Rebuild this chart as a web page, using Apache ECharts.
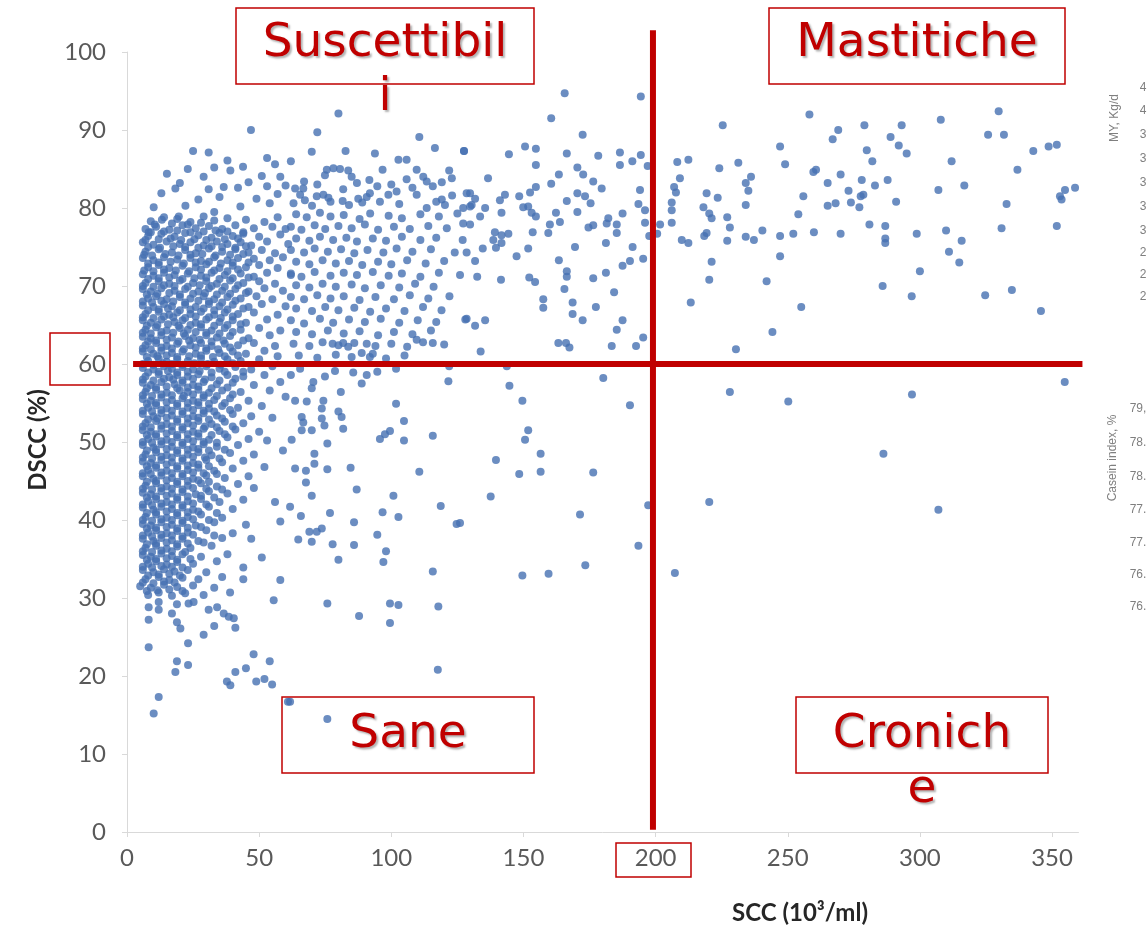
<!DOCTYPE html>
<html><head><meta charset="utf-8">
<script src="https://cdn.jsdelivr.net/npm/echarts@6/dist/echarts.min.js"></script>
<style>html,body{margin:0;padding:0;background:#fff}#c{width:1148px;height:931px}</style>
</head><body><div id="c"></div>
<script>
const xAxisTitle = 'SCC (10³/ml)';
const yAxisTitle = 'DSCC (%)';
const xRange = [0, 360, 50];
const yRange = [0, 100, 10];
const sccThreshold = 200;
const dsccThreshold = 60;
const quadrantLabels = ['Suscettibil', 'i', 'Mastitiche', 'Sane', 'Cronich', 'e'];
const sideLabelMY = 'MY, Kg/d';
const sideValuesMY = ['4', '4', '3', '3', '3', '3', '3', '2', '2', '2'];
const sideLabelCasein = 'Casein index, %';
const sideValuesCasein = ['79,', '78.', '78.', '77.', '77.', '76.', '76.'];

// x>200, DSCC>60
const rightUpper = [[225.4,90.6],[258.2,92.0],[307.9,91.3],[329.8,92.4],[279.0,90.6],[293.1,90.6],[269.1,90.0],[267.0,88.8],[288.9,89.1],[325.8,89.4],[331.8,89.4],[292.0,88.0],[295.0,87.0],[247.1,87.9],[279.9,87.4],[342.9,87.3],[348.7,87.9],[351.8,88.1],[208.2,85.9],[212.4,86.2],[231.3,85.8],[224.1,85.1],[249.0,85.6],[282.0,86.0],[312.0,86.0],[336.9,84.9],[259.7,84.6],[260.7,84.9],[270.0,84.3],[209.2,83.8],[236.1,84.0],[234.1,83.2],[278.0,83.6],[287.8,83.6],[265.1,83.2],[283.0,82.9],[316.8,82.9],[307.0,82.3],[207.0,82.7],[207.7,82.0],[235.1,82.2],[354.9,82.3],[358.7,82.6],[353.0,81.5],[353.6,81.1],[219.3,81.9],[223.5,81.3],[273.0,82.2],[278.6,81.7],[277.6,81.5],[255.9,81.5],[291.0,80.8],[332.8,80.5],[206.1,80.7],[206.1,79.7],[218.1,80.1],[220.3,79.3],[221.2,78.7],[234.1,80.4],[265.1,80.3],[268.1,80.6],[273.9,80.7],[277.1,80.1],[227.1,78.8],[254.0,79.2],[201.7,77.9],[206.1,78.1],[228.1,77.5],[280.9,77.9],[286.9,77.7],[330.9,77.4],[351.8,77.7],[200.6,76.7],[218.4,76.4],[219.3,76.8],[209.9,75.9],[212.4,75.5],[227.1,75.8],[234.1,76.3],[237.2,75.9],[240.4,77.1],[247.1,76.4],[252.1,76.7],[259.9,76.9],[270.0,76.7],[286.9,76.1],[286.9,75.5],[298.8,76.7],[309.9,77.1],[315.8,75.8],[311.0,74.4],[314.9,73.0],[247.1,73.8],[221.2,73.1],[220.3,70.8],[242.0,70.6],[300.0,71.9],[285.9,70.0],[296.9,68.7],[324.7,68.8],[334.8,69.5],[345.8,66.8],[213.3,67.9],[255.1,67.3],[244.2,64.1],[230.4,61.9]];
// x>200, DSCC<60
const rightLower = [[228.1,56.4],[250.2,55.2],[297.0,56.1],[354.8,57.7],[286.2,48.5],[220.3,42.3],[307.0,41.3],[207.3,33.2]];
// 126<x<200, DSCC>60
const midUpper = [[165.6,94.7],[194.4,94.3],[160.5,91.5],[172.4,89.4],[127.5,87.3],[144.5,86.9],[150.6,87.9],[154.7,87.6],[166.4,87.0],[178.3,86.7],[186.5,87.1],[186.5,85.5],[191.2,86.0],[194.4,86.8],[197.0,85.4],[154.7,85.5],[170.4,85.2],[172.6,84.3],[163.4,84.3],[136.6,83.8],[160.5,83.1],[176.4,83.4],[179.6,82.5],[154.7,82.7],[152.5,82.0],[148.4,81.5],[143.0,81.7],[141.1,81.0],[129.8,81.9],[131.7,81.2],[130.4,80.4],[170.4,81.9],[173.3,81.5],[175.4,80.6],[166.4,80.9],[194.1,82.3],[193.5,80.5],[196.0,79.7],[149.9,80.1],[151.8,80.2],[153.1,79.4],[154.7,78.9],[141.7,79.4],[135.5,80.0],[133.6,78.9],[127.2,78.0],[129.8,77.9],[162.3,79.4],[170.4,79.5],[187.5,79.3],[182.1,78.7],[181.5,78.0],[185.3,77.9],[185.3,76.8],[176.4,77.8],[174.6,77.5],[163.8,78.2],[160.0,77.9],[159.4,76.8],[153.5,76.9],[139.2,76.9],[141.7,76.5],[144.3,76.7],[138.6,75.9],[141.7,75.5],[139.6,74.9],[196.0,78.1],[197.6,76.4],[181.2,75.5],[169.5,75.0],[151.8,74.8],[147.4,73.8],[134.6,74.8],[128.5,74.3],[131.7,73.2],[191.3,75.0],[195.3,73.5],[190.3,73.2],[187.5,72.6],[163.4,73.3],[166.4,71.9],[166.4,71.2],[181.2,71.7],[176.4,71.0],[132.5,71.2],[141.5,70.8],[152.2,71.1],[154.4,70.5],[165.5,69.6],[184.3,69.2],[157.5,68.3],[157.5,67.2],[168.6,67.9],[168.6,66.4],[177.4,67.3],[172.4,65.6],[187.5,65.6],[185.3,64.4],[128.5,65.8],[131.7,64.9],[135.5,65.6],[163.2,62.7],[166.1,62.7],[167.4,62.1],[133.8,61.6],[183.4,62.3],[192.6,62.3],[195.3,63.4]];
// 126<x<200, DSCC<60
const midLower = [[143.7,59.7],[144.7,57.2],[149.6,55.3],[180.2,58.2],[190.3,54.7],[151.8,51.5],[150.6,50.3],[156.5,48.5],[139.6,47.7],[148.4,45.9],[156.5,46.2],[176.4,46.1],[137.6,43.0],[197.2,41.9],[171.4,40.7],[126.0,39.6],[193.5,36.7],[173.4,34.2],[149.6,32.9],[159.5,33.1]];
// 60<x<126, around and below the 60 line
const leftMidLower = [[77.8,62.6],[81.8,62.7],[83.7,62.2],[90.7,62.6],[88.8,61.4],[91.9,60.9],[115.7,62.7],[109.6,63.1],[65.5,59.4],[78.7,59.1],[85.6,58.9],[90.7,58.6],[94.7,59.0],[101.8,59.4],[121.9,59.7],[121.6,57.8],[88.8,57.5],[74.9,58.4],[70.5,57.7],[69.9,56.9],[80.9,56.4],[63.6,55.3],[68.0,55.2],[74.3,55.3],[73.7,54.3],[101.8,54.9],[80.0,53.9],[81.2,53.2],[66.1,53.2],[66.7,52.5],[66.1,51.5],[73.7,53.0],[74.7,52.1],[69.9,51.5],[81.8,51.7],[104.8,52.7],[95.7,50.4],[97.6,51.0],[99.5,51.4],[104.8,50.2],[115.7,50.8],[62.3,50.3],[75.8,49.8],[70.9,48.5],[70.9,47.2],[63.6,46.6],[67.7,46.3],[75.8,46.5],[84.6,46.7],[110.6,46.2],[67.7,44.8],[86.9,43.9],[69.9,43.1],[100.8,43.1],[118.7,41.8],[61.7,41.7],[65.8,40.5],[76.8,40.9],[96.7,41.0],[102.7,40.4],[85.9,39.7],[124.7,39.5],[69.0,38.5],[71.8,38.5],[73.7,38.9],[64.8,37.5],[69.9,37.2],[77.8,36.9],[85.9,36.8],[94.7,38.1],[98.0,36.0],[97.0,34.6],[80.0,34.9],[115.7,33.4],[75.8,29.3],[99.5,29.3],[102.7,29.1],[117.8,28.9],[87.8,27.7],[99.5,26.8],[117.6,20.8],[75.8,14.5],[61.7,16.7]];
// x<60, low tail
const leftLowerTail = [[12.0,29.5],[18.9,29.2],[23.3,29.3],[25.2,29.5],[8.2,28.8],[12.0,28.5],[17.0,28.0],[30.9,28.5],[34.1,28.8],[36.6,28.0],[38.5,27.6],[40.4,27.4],[8.2,27.2],[18.9,26.9],[20.2,26.1],[33.0,26.4],[41.0,26.2],[29.0,25.3],[23.1,24.2],[8.2,23.7],[47.9,22.8],[54.0,21.9],[18.9,21.9],[23.1,21.4],[18.3,20.5],[41.0,20.5],[45.0,21.0],[37.8,19.3],[39.1,18.8],[48.9,19.3],[52.0,19.6],[54.9,18.9],[60.9,16.7],[12.0,17.3],[10.1,15.2],[55.5,29.7],[58.0,32.3],[44.0,32.4],[48,44.1],[52,46.8],[56,42.3],[59,48.9],[55,53.1],[60,55.8],[47,37.6],[51,35.2],[44,33.9],[58,39.8],[53,50.2],[62,58.6],[57,61.0]];
// upper sparse, x<130
const leftUpper = [[46.9,90.0],[25.0,87.3],[30.9,87.1],[53.0,86.4],[15.1,84.4],[23.0,85.0],[33.0,85.2],[29.0,84.0],[39.1,84.8],[43.9,85.3],[58.0,84.0],[18.3,82.5],[30.9,82.4],[36.6,82.7],[42.0,82.6],[53.0,82.8],[10.1,80.1],[22.1,80.3],[13.2,78.5],[8.2,76.9],[19.6,78.9],[33.0,79.5],[42.9,80.2],[80.0,92.1],[72.0,89.7],[69.9,87.2],[82.7,87.3],[93.8,87.0],[110.6,89.1],[116.5,87.7],[127.5,87.3],[102.7,86.2],[105.8,86.2],[75.6,84.9],[78.1,85.1],[80.6,85.0],[83.7,84.8],[85.0,84.0],[74.9,84.2],[96.7,84.9],[91.7,83.6],[94.7,82.8],[109.6,84.9],[105.8,83.7],[112.1,84.0],[113.4,83.4],[115.7,82.8],[121.9,84.8],[122.9,83.8],[119.1,83.3],[128.5,81.9],[63.6,82.5],[66.7,82.5],[81.8,82.4],[71.8,81.5],[74.3,81.7],[76.2,81.3],[65.5,81.7],[67.3,81.0],[81.6,80.9],[87.5,81.2],[90.7,81.4],[91.9,81.9],[95.7,80.8],[98.9,81.7],[102.0,82.1],[109.6,81.7],[119.1,81.1],[120.3,80.4],[113.4,80.0],[127.2,80.0],[129.8,80.2],[63,80.6],[70,80.3],[77,80.8],[84,80.4],[89,80.7],[103,80.5],[117,80.8],[123,81.6],[67,83.4],[72,83.0],[87,83.2],[100,83.0],[108,82.6],[49,81.2],[54,80.6],[57,81.8],[60,82.9],[46,83.3],[51,84.1],[56,85.6],[62,86.0],[35,81.4],[27,81.1],[13,81.9],[20,83.2],[38,86.1]];
// dense blob, x<62 (first layer)
const coreBlob = [[9,78.3],[14,78.8],[19,78.6],[24,78.2],[29,78.9],[33,78.4],[38,78.7],[45,78.5],[52,78.2],[57,78.8],
[7,77.3],[11,77.6],[16,77.2],[21,77.8],[26,77.4],[31,77.7],[36,77.3],[41,77.8],[48,77.4],[55,77.6],[60,77.3],
[8,76.4],[13,76.7],[18,76.3],[22,76.8],[27,76.5],[32,76.2],[35,76.8],[40,76.4],[44,76.7],[50,76.3],[58,76.6],
[6,75.6],[10,75.3],[15,75.7],[20,75.4],[24,75.6],[29,75.2],[34,75.7],[38,75.4],[43,75.6],[47,75.2],[53,75.7],[61,75.4],
[7,74.4],[12,74.7],[17,74.3],[22,74.6],[26,74.2],[31,74.8],[36,74.4],[41,74.7],[46,74.3],[51,74.6],[56,74.2],
[6,73.6],[10,73.3],[14,73.7],[19,73.4],[24,73.6],[28,73.2],[33,73.7],[38,73.3],[42,73.6],[48,73.5],[54,73.3],[59,73.7],
[8,72.4],[12,72.7],[16,72.3],[21,72.6],[26,72.4],[30,72.8],[35,72.3],[40,72.6],[45,72.4],[50,72.7],[57,72.3],
[6,71.5],[10,71.3],[14,71.7],[18,71.4],[23,71.6],[28,71.3],[32,71.7],[37,71.4],[43,71.6],[48,71.2],[53,71.7],[62,71.4],
[7,70.4],[12,70.6],[16,70.3],[20,70.7],[25,70.4],[30,70.6],[34,70.3],[39,70.7],[44,70.4],[50,70.6],[56,70.3],
[6,69.6],[9,69.3],[13,69.7],[18,69.4],[22,69.6],[27,69.3],[31,69.7],[36,69.4],[41,69.6],[46,69.3],[52,69.7],[59,69.4],
[8,68.4],[11,68.7],[15,68.3],[20,68.6],[24,68.4],[29,68.7],[33,68.3],[38,68.6],[43,68.4],[49,68.7],[55,68.3],
[6,67.5],[10,67.3],[14,67.7],[17,67.4],[22,67.6],[26,67.3],[31,67.7],[35,67.4],[40,67.6],[46,67.3],[51,67.7],[60,67.4],
[7,66.4],[12,66.7],[16,66.3],[19,66.6],[24,66.4],[28,66.7],[33,66.3],[37,66.6],[42,66.4],[48,66.6],[57,66.3],
[6,65.6],[9,65.3],[13,65.7],[18,65.4],[21,65.6],[26,65.3],[30,65.7],[35,65.4],[40,65.6],[45,65.3],[53,65.7],
[7,64.4],[11,64.7],[15,64.3],[20,64.6],[23,64.4],[28,64.7],[32,64.3],[37,64.6],[43,64.4],[50,64.6],[58,64.3],
[6,63.5],[9,63.3],[13,63.7],[17,63.4],[22,63.6],[25,63.3],[30,63.7],[34,63.4],[39,63.6],[46,63.3],[54,63.7],
[7,62.4],[11,62.7],[15,62.3],[19,62.6],[24,62.4],[28,62.7],[32,62.3],[37,62.6],[42,62.4],[48,62.7],[56,62.3],
[6,61.6],[10,61.3],[13,61.7],[17,61.4],[21,61.6],[26,61.3],[30,61.7],[35,61.4],[40,61.6],[45,61.3],[52,61.7],
[8,60.4],[12,60.7],[15,60.3],[19,60.6],[23,60.4],[28,60.7],[33,60.3],[38,60.6],[43,60.4],[50,60.6],
[6,59.5],[10,59.3],[14,59.7],[17,59.4],[21,59.6],[25,59.3],[30,59.7],[35,59.4],[41,59.6],[47,59.3],[55,59.7],
[7,58.4],[12,58.7],[16,58.3],[19,58.6],[23,58.4],[27,58.7],[32,58.3],[38,58.6],[44,58.4],[52,58.6],
[6,57.6],[9,57.3],[13,57.7],[18,57.4],[21,57.6],[25,57.3],[29,57.7],[34,57.4],[40,57.6],[48,57.3],[58,57.7],
[7,56.4],[11,56.7],[15,56.3],[20,56.6],[23,56.4],[27,56.7],[31,56.3],[36,56.6],[43,56.4],[54,56.6],
[6,55.5],[9,55.3],[13,55.7],[17,55.4],[21,55.6],[25,55.3],[29,55.7],[33,55.4],[39,55.6],[46,55.3],
[8,54.4],[11,54.7],[15,54.3],[19,54.6],[23,54.4],[27,54.7],[31,54.3],[36,54.6],[42,54.4],[51,54.6],
[6,53.6],[10,53.3],[13,53.7],[17,53.4],[21,53.6],[25,53.3],[29,53.7],[34,53.4],[40,53.6],[47,53.3],
[7,52.4],[11,52.7],[15,52.3],[19,52.6],[23,52.4],[27,52.7],[32,52.3],[37,52.6],[44,52.4],
[6,51.5],[9,51.3],[13,51.7],[17,51.4],[21,51.6],[25,51.3],[29,51.7],[35,51.4],[41,51.6],[50,51.3],
[8,50.4],[11,50.7],[15,50.3],[19,50.6],[23,50.4],[27,50.7],[31,50.3],[38,50.6],[46,50.4],
[6,49.6],[10,49.3],[13,49.7],[17,49.4],[21,49.6],[25,49.3],[29,49.7],[34,49.4],[42,49.6],
[7,48.4],[11,48.7],[15,48.3],[19,48.6],[23,48.4],[27,48.7],[32,48.3],[39,48.6],[48,48.4],
[6,47.5],[9,47.3],[13,47.7],[17,47.4],[21,47.6],[25,47.3],[30,47.7],[36,47.4],[44,47.6],
[8,46.4],[11,46.7],[15,46.3],[19,46.6],[23,46.4],[27,46.7],[33,46.3],[40,46.6],
[6,45.6],[10,45.3],[13,45.7],[17,45.4],[21,45.6],[25,45.3],[30,45.7],[37,45.4],[46,45.6],
[7,44.4],[11,44.7],[15,44.3],[19,44.6],[23,44.4],[28,44.7],[34,44.3],[42,44.6],
[6,43.5],[9,43.3],[13,43.7],[17,43.4],[21,43.6],[26,43.3],[31,43.7],[38,43.4],
[8,42.4],[11,42.7],[15,42.3],[19,42.6],[23,42.4],[28,42.7],[35,42.3],[44,42.6],
[6,41.6],[10,41.3],[13,41.7],[17,41.4],[21,41.6],[25,41.3],[31,41.7],[40,41.4],
[7,40.4],[11,40.7],[15,40.3],[19,40.6],[23,40.4],[28,40.7],[36,40.3],
[6,39.5],[9,39.3],[13,39.7],[17,39.4],[21,39.6],[26,39.3],[33,39.7],[45,39.4],
[8,38.4],[11,38.7],[15,38.3],[19,38.6],[23,38.4],[30,38.7],[40,38.3],
[6,37.6],[10,37.3],[13,37.7],[17,37.4],[21,37.6],[27,37.3],[36,37.7],
[7,36.4],[11,36.7],[15,36.3],[19,36.6],[24,36.4],[32,36.7],
[6,35.5],[9,35.3],[13,35.7],[17,35.4],[21,35.6],[28,35.3],[38,35.6],
[8,34.4],[11,34.7],[15,34.3],[19,34.6],[25,34.4],[34,34.7],
[6,33.6],[10,33.3],[14,33.7],[18,33.4],[23,33.6],[30,33.3],
[7,32.4],[12,32.7],[16,32.3],[21,32.6],[27,32.4],[36,32.7],
[5,31.5],[9,31.3],[14,31.7],[19,31.4],[25,31.6],[33,31.3],
[8,30.4],[12,30.7],[17,30.3],[22,30.6],[29,30.4],[39,30.7]];
// dense blob, x<46 (second layer, between the first)
const coreBlob2 = [[10.5,77.9],[17,78.0],[23,77.9],[28,78.1],
[9,76.9],[14,77.0],[19,77.1],[24,76.9],[29,77.0],[33.5,77.1],[38,77.0],[44,76.9],
[7,75.9],[12,76.0],[16.5,76.1],[20.5,75.9],[25.5,76.0],[30,75.9],[37,76.0],[42,76.1],
[8,75.0],[12.5,74.9],[17.5,75.1],[22,75.0],[27,74.9],[32,75.1],[36,75.0],[41,74.9],[45,75.1],
[6.5,74.0],[9.5,73.9],[14.5,74.1],[19.5,73.9],[24,74.0],[28.5,74.1],[33.5,73.9],[39,74.0],[44,74.1],
[8,72.9],[12,73.0],[16.5,73.1],[21.5,72.9],[26,73.0],[31,73.1],[35.5,72.9],[40,73.0],[46,73.0],
[6.5,72.0],[10,71.9],[14,72.1],[18.5,72.0],[23.5,71.9],[28,72.1],[33,72.0],[38,71.9],[42,72.1],
[8,70.9],[12,71.0],[16,71.1],[21,70.9],[25.5,71.0],[30,71.1],[35,70.9],[40,71.0],[46,71.1],
[6,70.0],[10,69.9],[14,70.1],[18,70.0],[23,69.9],[27.5,70.1],[32,70.0],[37,69.9],[42,70.1],
[7.5,68.9],[11.5,69.0],[16,69.1],[20,68.9],[25,69.0],[29.5,69.1],[34,68.9],[39,69.0],[45,69.1],
[6,68.0],[9.5,67.9],[13,68.1],[17.5,68.0],[22,67.9],[27,68.1],[31,68.0],[36,67.9],[41,68.1],
[8,66.9],[12,67.0],[15.5,67.1],[20,66.9],[24,67.0],[29,67.1],[33,66.9],[38,67.0],[44,67.1],
[6,66.0],[10,65.9],[14,66.1],[17.5,66.0],[22,65.9],[26,66.1],[31,66.0],[35.5,65.9],[40,66.1],
[7.5,64.9],[11.5,65.0],[15.5,65.1],[19.5,64.9],[24,65.0],[28,65.1],[33,64.9],[38,65.0],[43,65.1],
[6,64.0],[9,63.9],[13,64.1],[17.5,64.0],[21.5,63.9],[26,64.1],[30,64.0],[35,63.9],[40,64.1],
[8,62.9],[11,63.0],[15,63.1],[19.5,62.9],[23.5,63.0],[27.5,63.1],[32,62.9],[36.5,63.0],[44,63.0],
[6,62.0],[9,61.9],[13,62.1],[17,62.0],[21.5,61.9],[26,62.1],[30,62.0],[34.5,61.9],[39,62.1],
[7.5,60.9],[11.5,61.0],[15,61.1],[19,60.9],[23.5,61.0],[28,61.1],[32.5,60.9],[37,61.0],[42,61.1],
[6,60.0],[10,59.9],[13.5,60.1],[17,60.0],[21,59.9],[25.5,60.1],[30.5,60.0],[35.5,59.9],[40,60.1],
[8,58.9],[12,59.0],[15.5,59.1],[19,58.9],[23,59.0],[27.5,59.1],[32,58.9],[37,59.0],[44,59.0],
[6,58.0],[10,57.9],[14,58.1],[17.5,58.0],[21,57.9],[25,58.1],[29.5,58.0],[35,57.9],[41,58.1],
[7.5,56.9],[11,57.0],[15,57.1],[19,56.9],[23,57.0],[27,57.1],[32,56.9],[38,57.0],
[6,56.0],[9.5,55.9],[13,56.1],[17,56.0],[21.5,55.9],[25,56.1],[29,56.0],[34,55.9],[40,56.1],
[7.5,54.9],[11,55.0],[15,55.1],[19,54.9],[23,55.0],[27,55.1],[31,54.9],[37,55.0],
[6,54.0],[9.5,53.9],[13,54.1],[17,54.0],[21,53.9],[25,54.1],[29,54.0],[33,53.9],[39,54.1],
[8,52.9],[11.5,53.0],[15,53.1],[19,52.9],[23,53.0],[27,53.1],[31,52.9],[36,53.0],
[6,52.0],[9,51.9],[13,52.1],[17,52.0],[21,51.9],[25,52.1],[29.5,52.0],[34,51.9],[40,52.0],
[7.5,50.9],[11,51.0],[15,51.1],[19,50.9],[23,51.0],[27,51.1],[32,50.9],[37,51.0],
[6,50.0],[9.5,49.9],[13,50.1],[17,50.0],[21,49.9],[25,50.1],[29,50.0],[34,49.9],
[7.5,48.9],[11,49.0],[15,49.1],[19,48.9],[23,49.0],[27,49.1],[31,48.9],[37,49.0],
[6,48.0],[9.5,47.9],[13,48.1],[17,48.0],[21,47.9],[25,48.1],[29.5,48.0],[35,47.9],
[7.5,46.9],[11,47.0],[15,47.1],[19,46.9],[23,47.0],[27,47.1],[31,46.9],
[6,46.0],[9,45.9],[13,46.1],[17,46.0],[21,45.9],[25,46.1],[29,46.0],[34,45.9],
[7.5,44.9],[11,45.0],[15,45.1],[19,44.9],[23,45.0],[27,45.1],[31,44.9],
[6,44.0],[9.5,43.9],[13,44.1],[17,44.0],[21,43.9],[25,44.1],[30,44.0],[36,43.9],
[7.5,42.9],[11,43.0],[15,43.1],[19,42.9],[23,43.0],[28,43.1],[33,42.9],
[6,42.0],[9.5,41.9],[13,42.1],[17,42.0],[21,41.9],[25,42.1],[30,42.0],
[7.5,40.9],[11,41.0],[15,41.1],[19,40.9],[23,41.0],[27,41.1],[34,40.9],
[6,40.0],[9.5,39.9],[13,40.1],[17,40.0],[21,39.9],[25,40.1],[31,40.0],
[7.5,38.9],[11,39.0],[15,39.1],[19,38.9],[23,39.0],[28,39.1],
[6,38.0],[9.5,37.9],[13,38.1],[17,38.0],[21,37.9],[25,38.1],[33,38.0],
[7.5,36.9],[11,37.0],[15,37.1],[19,36.9],[23,37.0],[29,37.1],
[6,36.0],[9.5,35.9],[13,36.1],[17,36.0],[22,35.9],
[7.5,34.9],[11,35.0],[15,35.1],[19,34.9],[24,35.0],
[6,34.0],[9.5,33.9],[13,34.1],[17,34.0],[21,33.9],
[8,32.9],[12,33.0],[16,33.1],[20,32.9],
[6,32.0],[10,31.9],[14,32.1],[18,32.0],
[7.5,30.9],[11.5,31.0],[16,31.1],[21,30.9]];
// moderately dense band, 60<x<130
const midBlob = [[64,79.2],[68,78.8],[73,79.4],[77,78.9],[82,79.1],[88,78.6],[92,79.3],[99,79.0],[104,78.7],[111,79.2],[118,78.9],[125,79.3],
[62,77.6],[66,77.2],[71,77.8],[75,77.3],[80,77.7],[85,77.4],[90,77.9],[95,77.2],[101,77.6],[107,77.3],[114,77.7],[121,77.4],
[64,76.1],[69,75.8],[73,76.3],[78,75.9],[83,76.2],[87,75.7],[93,76.1],[98,75.8],[104,76.3],[111,75.9],[117,76.2],[127,75.9],
[62,74.6],[67,74.3],[71,74.8],[76,74.4],[81,74.7],[86,74.2],[91,74.6],[97,74.3],[102,74.8],[108,74.4],[115,74.7],[124,74.3],
[64,73.1],[69,72.8],[74,73.3],[79,72.9],[84,73.2],[89,72.7],[95,73.1],[100,72.8],[106,73.3],[113,72.9],[120,73.2],
[62,71.6],[66,71.2],[71,71.8],[77,71.3],[82,71.7],[87,71.4],[93,71.8],[99,71.3],[104,71.6],[111,71.2],[118,71.7],[126,71.4],
[64,70.1],[69,69.8],[74,70.3],[79,69.9],[85,70.2],[90,69.7],[96,70.1],[103,69.8],[109,70.3],[116,69.9],
[62,68.6],[67,68.3],[72,68.8],[77,68.4],[82,68.7],[88,68.2],[94,68.6],[101,68.3],[107,68.8],[114,68.4],[122,68.7],
[64,67.1],[70,66.8],[75,67.3],[80,66.9],[86,67.2],[92,66.7],[98,67.1],[105,66.8],[112,67.3],[119,66.9],
[62,65.6],[67,65.2],[73,65.8],[78,65.3],[84,65.7],[90,65.4],[96,65.8],[103,65.3],[110,65.6],[117,65.4],[128,65.7],
[64,64.1],[70,63.8],[76,64.3],[82,63.9],[88,64.2],[95,63.7],[101,64.1],[108,63.8],[115,64.3],
[63,62.6],[69,62.3],[74,62.8],[80,62.4],[86,62.7],[94,62.3],[100,62.6],[106,62.2],[112,62.8],[120,62.5],
[65,61.1],[72,60.8],[79,61.2],[85,60.9],[93,61.3],[98,60.7],[105,61.1]];

const allPoints = [].concat(rightUpper, rightLower, midUpper, midLower, leftMidLower, leftLowerTail, leftUpper, coreBlob, coreBlob2, midBlob);

const chart = echarts.init(document.getElementById('c'), null, {renderer: 'canvas'});
const tickFont = {fontFamily: 'Lato, "Open Sans", sans-serif', fontSize: 24, color: '#595959'};
chart.setOption({
  animation: false,
  backgroundColor: '#ffffff',
  grid: {left: 127, right: 1148 - 127 - 360 * 2.643, top: 52, bottom: 99, containLabel: false},
  xAxis: {
    type: 'value', min: xRange[0], max: xRange[1], interval: xRange[2],
    axisLine: {show: true, lineStyle: {color: '#d9d9d9', width: 1}},
    axisTick: {show: true, length: 5, lineStyle: {color: '#d9d9d9'}},
    splitLine: {show: false},
    axisLabel: Object.assign({margin: 14, showMaxLabel: false}, tickFont)
  },
  yAxis: {
    type: 'value', min: yRange[0], max: yRange[1], interval: yRange[2],
    axisLine: {show: true, lineStyle: {color: '#d9d9d9', width: 1}},
    axisTick: {show: true, length: 5, lineStyle: {color: '#d9d9d9'}},
    splitLine: {show: false},
    axisLabel: Object.assign({margin: 21}, tickFont)
  },
  series: [{
    type: 'scatter', data: allPoints, symbol: 'circle', symbolSize: 8,
    itemStyle: {color: '#4670b2'}, silent: true
  }]
});

const P = (x, y) => chart.convertToPixel({gridIndex: 0}, [x, y]);
const hA = P(2.3, dsccThreshold), hB = P(361.5, dsccThreshold);
const vA = P(sccThreshold - 1, 102.8), vB = P(sccThreshold - 1, 0.3);
const red = '#C00000';
const labelStyle = (txt, x, y) => ({
  type: 'text', x: x, y: y, z: 20,
  style: {text: txt, fill: red, font: '47px "DejaVu Sans", "Noto Sans", sans-serif', align: 'center', verticalAlign: 'middle',
    textShadowColor: 'rgba(0,0,0,0.3)', textShadowOffsetX: 2, textShadowOffsetY: 2, textShadowBlur: 2}
});
const box = (x, y, w, h) => ({type: 'rect', z: 19, shape: {x: x, y: y, width: w, height: h}, style: {fill: 'rgba(255,255,255,0)', stroke: red, lineWidth: 1.5}});
const greyText = (txt, x, y, rot, size) => ({type: 'text', x: x, y: y, rotation: rot || 0, z: 5,
  style: {text: txt, fill: '#7f7f7f', font: (size || 12) + 'px "Liberation Sans", sans-serif', align: 'center', verticalAlign: 'middle'}});

const graphics = [
  {type: 'line', z: 15, shape: {x1: hA[0], y1: hA[1], x2: hB[0], y2: hB[1]}, style: {stroke: red, lineWidth: 6}},
  {type: 'line', z: 15, shape: {x1: vA[0], y1: vA[1], x2: vB[0], y2: vB[1]}, style: {stroke: red, lineWidth: 6}},
  box(236, 8, 298, 76), labelStyle(quadrantLabels[0], 385, 44), labelStyle(quadrantLabels[1], 385, 98),
  box(769, 8, 296, 76), labelStyle(quadrantLabels[2], 917, 44),
  box(282, 697, 252, 76), labelStyle(quadrantLabels[3], 408, 735),
  box(796, 697, 252, 76), labelStyle(quadrantLabels[4], 922, 735), labelStyle(quadrantLabels[5], 922, 790),
  box(50, 333, 60, 52),
  box(616, 843, 75, 34),
  {type: 'text', x: 38, y: 440, rotation: Math.PI / 2, z: 5,
    style: {text: yAxisTitle, fill: '#262626', font: 'bold 24px Lato, "Open Sans", sans-serif', align: 'center', verticalAlign: 'middle'}},
  {type: 'text', x: 800, y: 913, z: 5,
    style: {text: xAxisTitle, fill: '#262626', font: 'bold 24px Lato, "Open Sans", sans-serif', align: 'center', verticalAlign: 'middle'}},
  greyText(sideLabelMY, 1115, 118, Math.PI / 2, 12),
  greyText(sideLabelCasein, 1113, 458, Math.PI / 2, 12)
];
const myY = [88, 111, 135, 159, 183, 207, 231, 253, 275, 297];
sideValuesMY.forEach((v, i) => graphics.push(greyText(v, 1143, myY[i], 0, 12)));
const csY = [409, 443, 477, 510, 543, 575, 607];
sideValuesCasein.forEach((v, i) => graphics.push(greyText(v, 1138, csY[i], 0, 12)));
chart.setOption({graphic: graphics});
</script>
</body></html>
